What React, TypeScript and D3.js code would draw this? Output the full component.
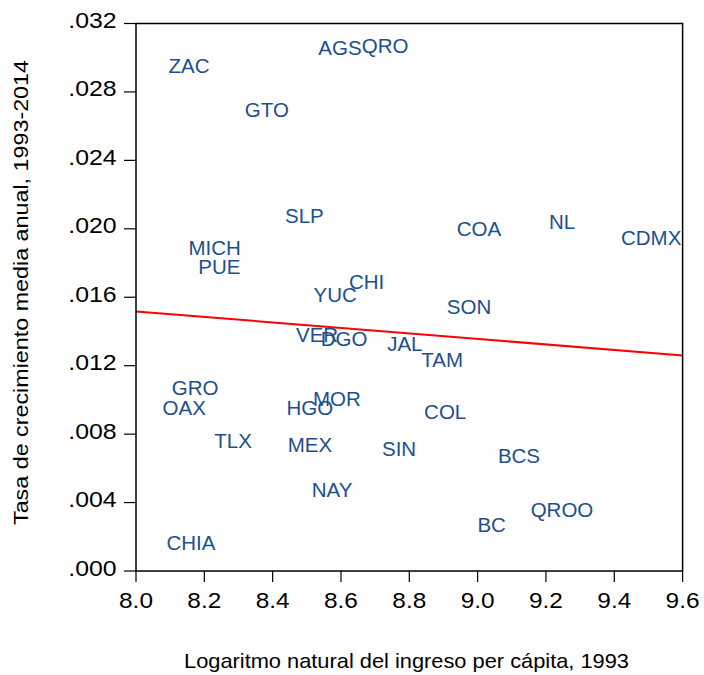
import React from "react";
import * as d3 from "d3";

const states = ["AGS","QRO","ZAC","GTO","SLP","MICH","PUE","CHI","COA","NL","CDMX","SON","YUC","VER","DGO","JAL","TAM","GRO","OAX","HGO","MOR","COL","TLX","MEX","SIN","BCS","NAY","QROO","BC","CHIA"];
const logIncome = [8.597,8.729,8.155,8.383,8.493,8.230,8.244,8.675,9.004,9.247,9.508,8.975,8.583,8.530,8.609,8.787,8.896,8.173,8.141,8.509,8.588,8.905,8.284,8.509,8.770,9.121,8.574,9.247,9.041,8.161];
const growth = [0.03060,0.03069,0.02952,0.02695,0.02075,0.01888,0.01779,0.01689,0.01999,0.02040,0.01949,0.01546,0.01613,0.01379,0.01356,0.01327,0.01233,0.01070,0.00953,0.00953,0.01005,0.00932,0.00760,0.00736,0.00713,0.00672,0.00473,0.00357,0.00269,0.00164];
const fitX = [8.0, 9.6];
const fitY = [0.01517, 0.01260];
const xTicks = [8.0, 8.2, 8.4, 8.6, 8.8, 9.0, 9.2, 9.4, 9.6];
const yTicks = [0, 0.004, 0.008, 0.012, 0.016, 0.020, 0.024, 0.028, 0.032];
const xTitle = "Logaritmo natural del ingreso per cápita, 1993";
const yTitle = "Tasa de crecimiento media anual, 1993-2014";

const W = 704, H = 675;
const L = 136, R = 682.6, T = 23.5, B = 571;
const FONT = "'Liberation Sans', Arial, sans-serif";

export default function App() {
  const x = d3.scaleLinear().domain([8.0, 9.6]).range([L, R]);
  const y = d3.scaleLinear().domain([0, 0.032]).range([B, T]);
  const fmtY = (v: number) => d3.format(".3f")(v).replace(/^0/, "");
  const fmtX = d3.format(".1f");
  const line = d3.line<number>().x((_, i) => x(fitX[i])).y((d) => y(d));
  const labelColor = "#1d4f8c";
  return (
    <svg width={W} height={H} style={{ position: "absolute", left: 0, top: 0, background: "#fff" }} fontFamily={FONT}>
      <rect x={0} y={0} width={W} height={H} fill="#fff" />
      {states.map((s, i) => (
        <text key={s} x={x(logIncome[i])} y={y(growth[i])} dy="0.36em" textAnchor="middle" fontSize={20.5} fill={labelColor}>
          {s}
        </text>
      ))}
      <path d={line(fitY) || ""} fill="none" stroke="#ff0000" strokeWidth={2} />
      <rect x={L} y={T} width={R - L} height={B - T} fill="none" stroke="#000" strokeWidth={1.5} />
      {yTicks.map((t) => (
        <g key={"y" + t}>
          <line x1={L - 12} x2={L} y1={y(t)} y2={y(t)} stroke="#000" strokeWidth={1.2} />
          <text transform={`translate(116.7,${y(t) + 4.5}) scale(1.13,1)`} textAnchor="end" fontSize={22} fill="#000">{fmtY(t)}</text>
        </g>
      ))}
      {xTicks.map((t) => (
        <g key={"x" + t}>
          <line x1={x(t)} x2={x(t)} y1={B} y2={B + 11} stroke="#000" strokeWidth={1.2} />
          <text transform={`translate(${x(t)},607.7) scale(1.11,1)`} textAnchor="middle" fontSize={22} fill="#000">{fmtX(t)}</text>
        </g>
      ))}
      <text x={(184 + 629) / 2} y={668} textAnchor="middle" fontSize={21} textLength={445} lengthAdjust="spacingAndGlyphs" fill="#000">{xTitle}</text>
      <text transform={`translate(28,292.5) rotate(-90)`} textAnchor="middle" fontSize={21} textLength={465} lengthAdjust="spacingAndGlyphs" fill="#000">{yTitle}</text>
    </svg>
  );
}
